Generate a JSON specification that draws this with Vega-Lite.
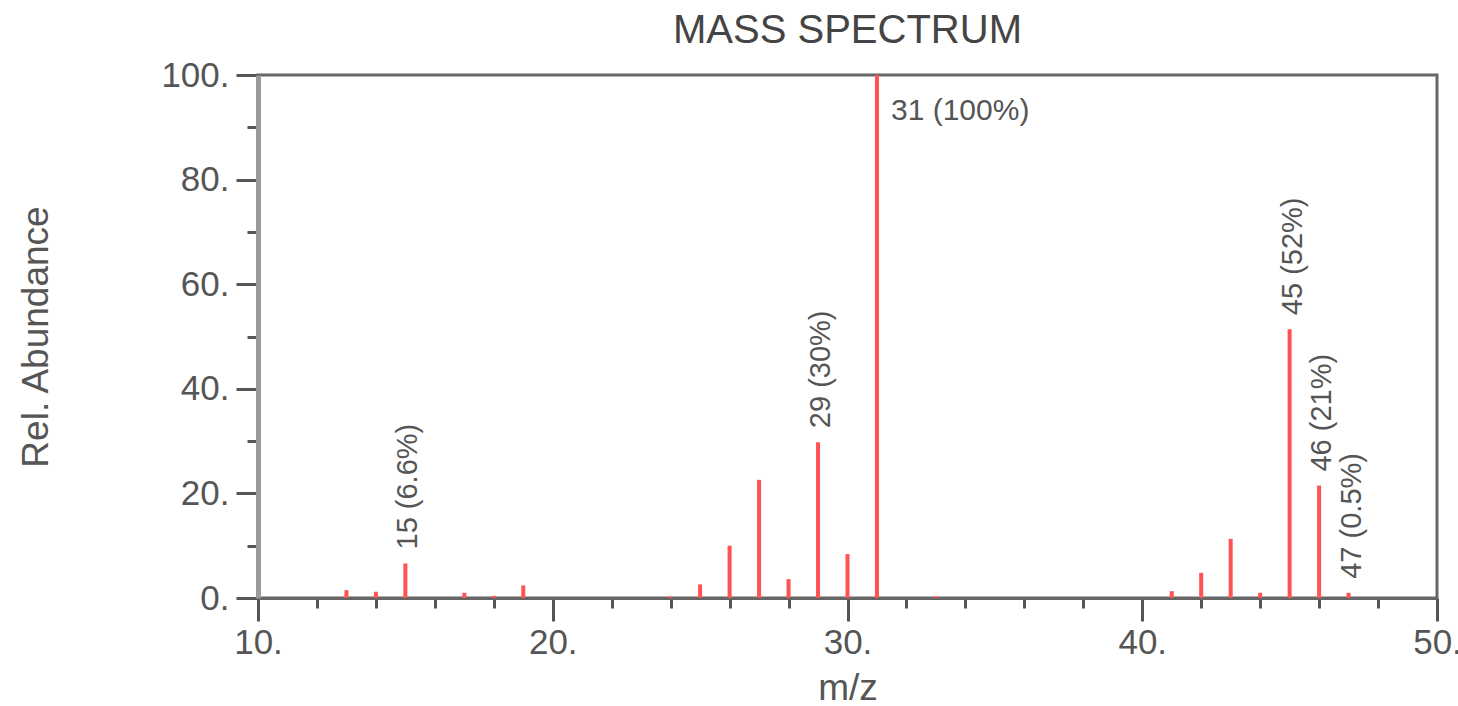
{
  "$schema": "https://vega.github.io/schema/vega-lite/v6.json",
  "autosize": {"type": "none"},
  "width": 1179,
  "height": 523,
  "padding": {"left": 258, "top": 75, "right": 21, "bottom": 108},
  "background": "white",
  "config": {
    "font": "Liberation Sans",
    "view": {"stroke": "#666666", "strokeWidth": 3}
  },
  "title": {
    "text": "MASS SPECTRUM",
    "font": "Liberation Sans",
    "fontSize": 40,
    "fontWeight": "normal",
    "color": "#444444",
    "anchor": "middle",
    "frame": "group",
    "baseline": "alphabetic",
    "offset": 10,
    "dy": 35
  },
  "data": {
    "values": [
      {"mz": 13, "abundance": 1.5, "label": null},
      {"mz": 14, "abundance": 1.2, "label": null},
      {"mz": 15, "abundance": 6.6, "label": "15 (6.6%)"},
      {"mz": 17, "abundance": 1.0, "label": null},
      {"mz": 18, "abundance": 0.4, "label": null},
      {"mz": 19, "abundance": 2.4, "label": null},
      {"mz": 24, "abundance": 0.3, "label": null},
      {"mz": 25, "abundance": 2.6, "label": null},
      {"mz": 26, "abundance": 10.0, "label": null},
      {"mz": 27, "abundance": 22.6, "label": null},
      {"mz": 28, "abundance": 3.6, "label": null},
      {"mz": 29, "abundance": 29.8, "label": "29 (30%)"},
      {"mz": 30, "abundance": 8.4, "label": null},
      {"mz": 31, "abundance": 100, "label": "31 (100%)"},
      {"mz": 33, "abundance": 0.3, "label": null},
      {"mz": 41, "abundance": 1.3, "label": null},
      {"mz": 42, "abundance": 4.8, "label": null},
      {"mz": 43, "abundance": 11.3, "label": null},
      {"mz": 44, "abundance": 1.0, "label": null},
      {"mz": 45, "abundance": 51.4, "label": "45 (52%)"},
      {"mz": 46, "abundance": 21.5, "label": "46 (21%)"},
      {"mz": 47, "abundance": 1.0, "label": "47 (0.5%)"}
    ]
  },
  "encoding": {
    "x": {
      "field": "mz",
      "type": "quantitative",
      "scale": {"domain": [10, 50], "nice": false, "zero": false},
      "axis": {
        "title": "m/z",
        "titleFont": "Liberation Sans",
        "titleFontSize": 37,
        "titleFontWeight": "normal",
        "titleColor": "#555555",
        "titlePadding": 10,
        "values": [10, 12, 14, 16, 18, 20, 22, 24, 26, 28, 30, 32, 34, 36, 38, 40, 42, 44, 46, 48, 50],
        "labelExpr": "datum.value % 10 === 0 ? datum.label + '.' : ''",
        "labelFont": "Liberation Sans",
        "labelFontSize": 35,
        "labelColor": "#555555",
        "labelPadding": 4,
        "labelFlush": false,
        "labelOverlap": false,
        "tickSize": {"condition": {"test": "datum.value % 10 === 0", "value": 23}, "value": 10},
        "tickColor": "#555555",
        "tickWidth": 3,
        "domainColor": "#666666",
        "domainWidth": 3,
        "grid": false
      }
    },
    "y": {
      "field": "abundance",
      "type": "quantitative",
      "scale": {"domain": [0, 100], "nice": false},
      "axis": {
        "title": "Rel. Abundance",
        "titleFont": "Liberation Sans",
        "titleFontSize": 37,
        "titleFontWeight": "normal",
        "titleColor": "#555555",
        "titlePadding": 105,
        "values": [0, 10, 20, 30, 40, 50, 60, 70, 80, 90, 100],
        "labelExpr": "datum.value % 20 === 0 ? datum.label + '.' : ''",
        "labelFont": "Liberation Sans",
        "labelFontSize": 35,
        "labelColor": "#555555",
        "labelPadding": 7,
        "labelFlush": false,
        "labelOverlap": false,
        "tickSize": {"condition": {"test": "datum.value % 20 === 0", "value": 22}, "value": 11},
        "tickColor": "#555555",
        "tickWidth": 3,
        "domainColor": "#999999",
        "domainWidth": 5,
        "grid": false
      }
    }
  },
  "layer": [
    {
      "mark": {"type": "rule", "color": "#ff5252", "strokeWidth": 4},
      "encoding": {"y2": {"datum": 0}}
    },
    {
      "transform": [{"filter": "datum.label != null && datum.mz != 31"}],
      "mark": {
        "type": "text",
        "angle": 270,
        "align": "left",
        "baseline": "middle",
        "dx": 14,
        "dy": 3,
        "font": "Liberation Sans",
        "fontSize": 29,
        "color": "#555555"
      },
      "encoding": {"text": {"field": "label"}}
    },
    {
      "transform": [{"filter": "datum.mz == 31"}],
      "mark": {
        "type": "text",
        "align": "left",
        "baseline": "middle",
        "dx": 14,
        "dy": 36,
        "font": "Liberation Sans",
        "fontSize": 30,
        "color": "#555555"
      },
      "encoding": {"text": {"field": "label"}}
    }
  ]
}
